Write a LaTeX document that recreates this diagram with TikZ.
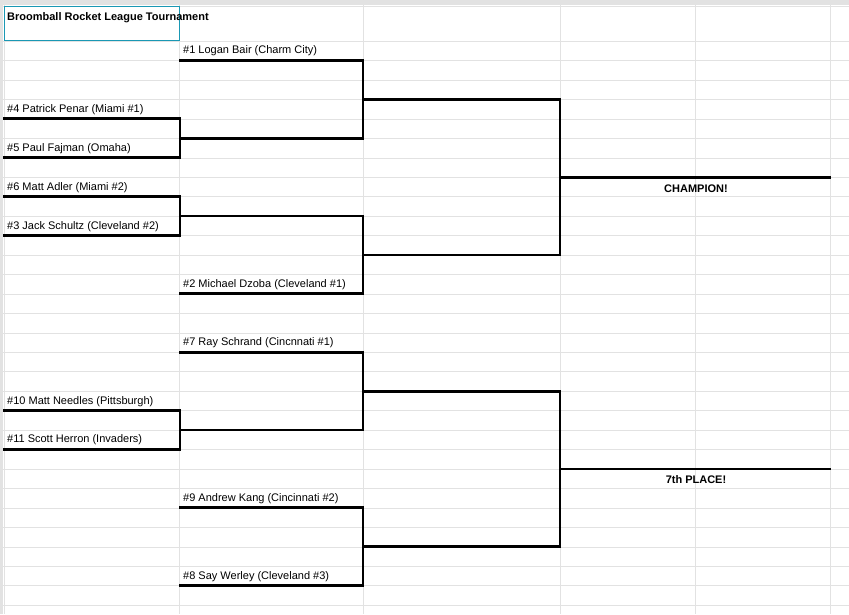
\documentclass[tikz,border=0pt]{standalone}
\usepackage{fontspec}
\setmainfont{Liberation Sans}
\usetikzlibrary{backgrounds}
\definecolor{xgrid}{RGB}{226,226,226}
\definecolor{xsel}{RGB}{26,152,180}
\tikzset{
  team/.style={anchor=base west, inner sep=0pt, xshift=3pt, yshift=6.5pt, font=\fontsize{11}{13}\selectfont},
  place/.style={anchor=base, inner sep=0pt, yshift=-15pt, font=\bfseries\fontsize{11}{13}\selectfont},
  bracket/.style={line width=2.8pt, line cap=rect}
}
\begin{document}
\begin{tikzpicture}[x=1pt, y=-1pt]
\def \h {19.45}
\useasboundingbox (0,0) rectangle (849,614);
\fill[white] (0,0) rectangle (849,614);
% sheet grid
\foreach \k in {0,...,29} \draw[xgrid] (0,{41+\k*\h}) -- (849,{41+\k*\h});
\foreach \x in {4,179,363,560,695,830} \draw[xgrid] (\x,0) -- (\x,614);
\draw[xgrid] (0,6) -- (849,6);
\fill[xgrid] (0,0) rectangle (849,5);
\fill[xgrid] (0,0) rectangle (3,614);
\draw[xsel] (4,6) rectangle (179,40);
\node[anchor=base west, inner sep=0pt, font=\bfseries\fontsize{11}{13}\selectfont] (title) at (7,20) {Broomball Rocket League Tournament};
% first round
\coordinate (p4) at (4,{41+4*\h});   \coordinate (p4e) at (180,{41+4*\h});
\coordinate (p5) at (4,{41+6*\h});   \coordinate (p5e) at (180,{41+6*\h});
\coordinate (p6) at (4,{41+8*\h});   \coordinate (p6e) at (180,{41+8*\h});
\coordinate (p3) at (4,{41+10*\h});  \coordinate (p3e) at (180,{41+10*\h});
\coordinate (p10) at (4,{41+19*\h}); \coordinate (p10e) at (180,{41+19*\h});
\coordinate (p11) at (4,{41+21*\h}); \coordinate (p11e) at (180,{41+21*\h});
\node[team] (n4) at (p4) {\#4 Patrick Penar (Miami \#1)};
\node[team] (n5) at (p5) {\#5 Paul Fajman (Omaha)};
\node[team] (n6) at (p6) {\#6 Matt Adler (Miami \#2)};
\node[team] (n3) at (p3) {\#3 Jack Schultz (Cleveland \#2)};
\node[team] (n10) at (p10) {\#10 Matt Needles (Pittsburgh)};
\node[team] (n11) at (p11) {\#11 Scott Herron (Invaders)};
\draw[bracket] (p4) -- (p4e) -- (p5e) -- (p5);
\draw[bracket] (p6) -- (p6e) -- (p3e) -- (p3);
\draw[bracket] (p10) -- (p10e) -- (p11e) -- (p11);
% second round
\coordinate (p1) at (180,{41+1*\h});   \coordinate (p1e) at (363,{41+1*\h});
\coordinate (w45) at (180,{41+5*\h}); \coordinate (w45e) at (363,{41+5*\h});
\coordinate (w63) at (180,{41+9*\h}); \coordinate (w63e) at (363,{41+9*\h});
\coordinate (p2) at (180,{41+13*\h});  \coordinate (p2e) at (363,{41+13*\h});
\coordinate (p7) at (180,{41+16*\h});  \coordinate (p7e) at (363,{41+16*\h});
\coordinate (w1011) at (180,{41+20*\h}); \coordinate (w1011e) at (363,{41+20*\h});
\coordinate (p9) at (180,{41+24*\h});  \coordinate (p9e) at (363,{41+24*\h});
\coordinate (p8) at (180,{41+28*\h});  \coordinate (p8e) at (363,{41+28*\h});
\node[team] (n1) at (p1) {\#1 Logan Bair (Charm City)};
\node[team] (n2) at (p2) {\#2 Michael Dzoba (Cleveland \#1)};
\node[team] (n7) at (p7) {\#7 Ray Schrand (Cincnnati \#1)};
\node[team] (n9) at (p9) {\#9 Andrew Kang (Cincinnati \#2)};
\node[team] (n8) at (p8) {\#8 Say Werley (Cleveland \#3)};
\draw[bracket] (p1) -- (p1e) -- (w45e) -- (w45);
\draw[bracket] (w63) -- (w63e) -- (p2e) -- (p2);
\draw[bracket] (p7) -- (p7e) -- (w1011e) -- (w1011);
\draw[bracket] (p9) -- (p9e) -- (p8e) -- (p8);
% semifinals
\coordinate (s1) at (363,{41+3*\h});  \coordinate (s1e) at (560,{41+3*\h});
\coordinate (s2) at (363,{41+11*\h}); \coordinate (s2e) at (560,{41+11*\h});
\coordinate (s3) at (363,{41+18*\h}); \coordinate (s3e) at (560,{41+18*\h});
\coordinate (s4) at (363,{41+26*\h}); \coordinate (s4e) at (560,{41+26*\h});
\draw[bracket] (s1) -- (s1e) -- (s2e) -- (s2);
\draw[bracket] (s3) -- (s3e) -- (s4e) -- (s4);
% finals
\coordinate (f1) at (560,{41+7*\h});  \coordinate (f1e) at (830,{41+7*\h});
\coordinate (f2) at (560,{41+22*\h}); \coordinate (f2e) at (830,{41+22*\h});
\draw[bracket] (f1) -- (f1e);
\draw[bracket] (f2) -- (f2e);
\node[place] (champ) at (696,{41+7*\h}) {CHAMPION!};
\node[place] (seventh) at (696,{41+22*\h}) {7th PLACE!};
\end{tikzpicture}
\end{document}
